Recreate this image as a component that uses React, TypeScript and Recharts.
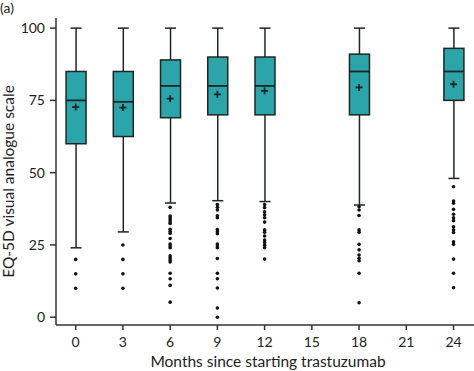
import { ComposedChart, Bar, Scatter, XAxis, YAxis, Label } from 'recharts'

const months = [0, 3, 6, 9, 12, 18, 24]
const q1 = [60, 62.5, 69, 70, 70, 70, 75]
const medians = [75, 74.5, 80, 80, 80, 85, 85]
const q3 = [85, 85, 89, 90, 90, 91, 93]
const whiskerLow = [24, 29.5, 39.5, 40.3, 40, 38.8, 48]
const whiskerHigh = [100, 100, 100, 100, 100, 100, 100]
const means = [72.7, 72.5, 75.6, 77.1, 78.3, 79.5, 80.6]

const outliers: number[][] = [
  [20, 15, 10],
  [25, 20, 15, 10],
  [38, 35, 34.4, 33.7, 33, 32.4, 30.4, 29.7, 29, 27.2, 25.3, 24.6, 24, 21.2, 20.5, 19.8, 19.1, 15.2, 13.3, 11, 5.2],
  [39, 38, 37.1, 35.1, 34.4, 30.3, 29.6, 28.9, 25.3, 24.6, 24, 20.3, 15.2, 13.3, 10.1, 3.2, 0],
  [39, 37.9, 36.5, 35.4, 34.4, 32.9, 30.2, 29.4, 28.1, 26.7, 25.8, 24.9, 24, 20.1],
  [38.2, 37.1, 35.2, 30.2, 29.4, 25.2, 23.3, 21.5, 20.4, 19.5, 15.2, 5],
  [45.1, 40.2, 39.4, 37.3, 35.6, 34.4, 33.4, 31.3, 30.2, 29.3, 26.1, 25.2, 20.1, 15.2, 10.2],
]

const xTicks = [0, 3, 6, 9, 12, 15, 18, 21, 24]
const yTicks = [0, 25, 50, 75, 100]

const boxes = months.map((m, i) => ({
  x: m,
  q1: q1[i],
  median: medians[i],
  q3: q3[i],
  low: whiskerLow[i],
  high: whiskerHigh[i],
  mean: means[i],
}))

const outlierPoints = months.flatMap((m, i) => outliers[i].map((v) => ({ x: m, y: v })))

const TEAL = '#2ba5a9'
const INK = '#1c2626'
const FONT = 'Lato'

function BoxShape(props: any) {
  const { x, y, width, height, payload } = props
  if (!payload) return null
  const { low, high, q1, q3, median } = payload
  const py = (v: number) => y + (height * (high - v)) / (high - low)
  const cx = x + width / 2
  const cap = 5.5
  return (
    <g>
      <line x1={cx} x2={cx} y1={py(high)} y2={py(low)} stroke={INK} strokeWidth={1.5} />
      <line x1={cx - cap} x2={cx + cap} y1={py(high)} y2={py(high)} stroke={INK} strokeWidth={1.5} />
      <line x1={cx - cap} x2={cx + cap} y1={py(low)} y2={py(low)} stroke={INK} strokeWidth={1.5} />
      <rect x={x} y={py(q3)} width={width} height={py(q1) - py(q3)} fill={TEAL} stroke={INK} strokeWidth={1.5} />
      <line x1={x} x2={x + width} y1={py(median)} y2={py(median)} stroke={INK} strokeWidth={1.8} />
    </g>
  )
}

function PlusShape(props: any) {
  const { cx, cy } = props
  const s = 3.5
  return (
    <g>
      <line x1={cx - s} x2={cx + s} y1={cy} y2={cy} stroke={INK} strokeWidth={1.8} />
      <line x1={cx} x2={cx} y1={cy - s} y2={cy + s} stroke={INK} strokeWidth={1.8} />
    </g>
  )
}

function DotShape(props: any) {
  return <circle cx={props.cx} cy={props.cy} r={1.8} fill="#111" />
}

const tickStyle = { fontFamily: FONT, fontSize: 14, fill: '#222' }

function XTitle(props: any) {
  const vb = props.viewBox
  return (
    <text x={vb.x + vb.width / 2 + 3} y={367} textAnchor="middle" fontFamily={FONT} fontSize={15.5} fill="#222">
      Months since starting trastuzumab
    </text>
  )
}

function YTitle(props: any) {
  const vb = props.viewBox
  const cy = vb.y + vb.height / 2 + 10
  return (
    <text
      x={14}
      y={cy}
      transform={`rotate(-90, 14, ${cy})`}
      textAnchor="middle"
      fontFamily={FONT}
      fontSize={15.5}
      fill="#222"
    >
      EQ-5D visual analogue scale
    </text>
  )
}

export default function App() {
  return (
    <div style={{ position: 'absolute', left: 0, top: 0, width: 474, height: 371, background: '#fff' }}>
      <div style={{ position: 'absolute', left: 0, top: 0, fontFamily: FONT, fontSize: 14, lineHeight: '15px', color: '#222' }}>(a)</div>
      <ComposedChart width={474} height={371} data={boxes} margin={{ top: 18, right: 0, bottom: 0, left: 0 }}>
        <XAxis
          dataKey="x"
          type="number"
          domain={[-1.25, 25.3]}
          ticks={xTicks}
          tick={tickStyle}
          tickLine={{ stroke: '#333', strokeWidth: 1.5 }}
          axisLine={{ stroke: '#333', strokeWidth: 1.5 }}
          tickSize={5}
          tickMargin={7}
          height={46}
          allowDataOverflow
        >
          <Label content={<XTitle />} />
        </XAxis>
        <YAxis
          type="number"
          domain={[-2.7, 103.5]}
          ticks={yTicks}
          tick={tickStyle}
          tickLine={{ stroke: '#333', strokeWidth: 1.5 }}
          axisLine={{ stroke: '#333', strokeWidth: 1.5 }}
          tickSize={6}
          tickMargin={5}
          width={56}
          allowDataOverflow
        >
          <Label content={<YTitle />} />
        </YAxis>
        <Bar dataKey={(d: any) => [d.low, d.high]} barSize={20} shape={<BoxShape />} isAnimationActive={false} />
        <Scatter data={boxes} dataKey="mean" shape={<PlusShape />} isAnimationActive={false} />
        <Scatter data={outlierPoints} dataKey="y" shape={<DotShape />} isAnimationActive={false} />
      </ComposedChart>
    </div>
  )
}
